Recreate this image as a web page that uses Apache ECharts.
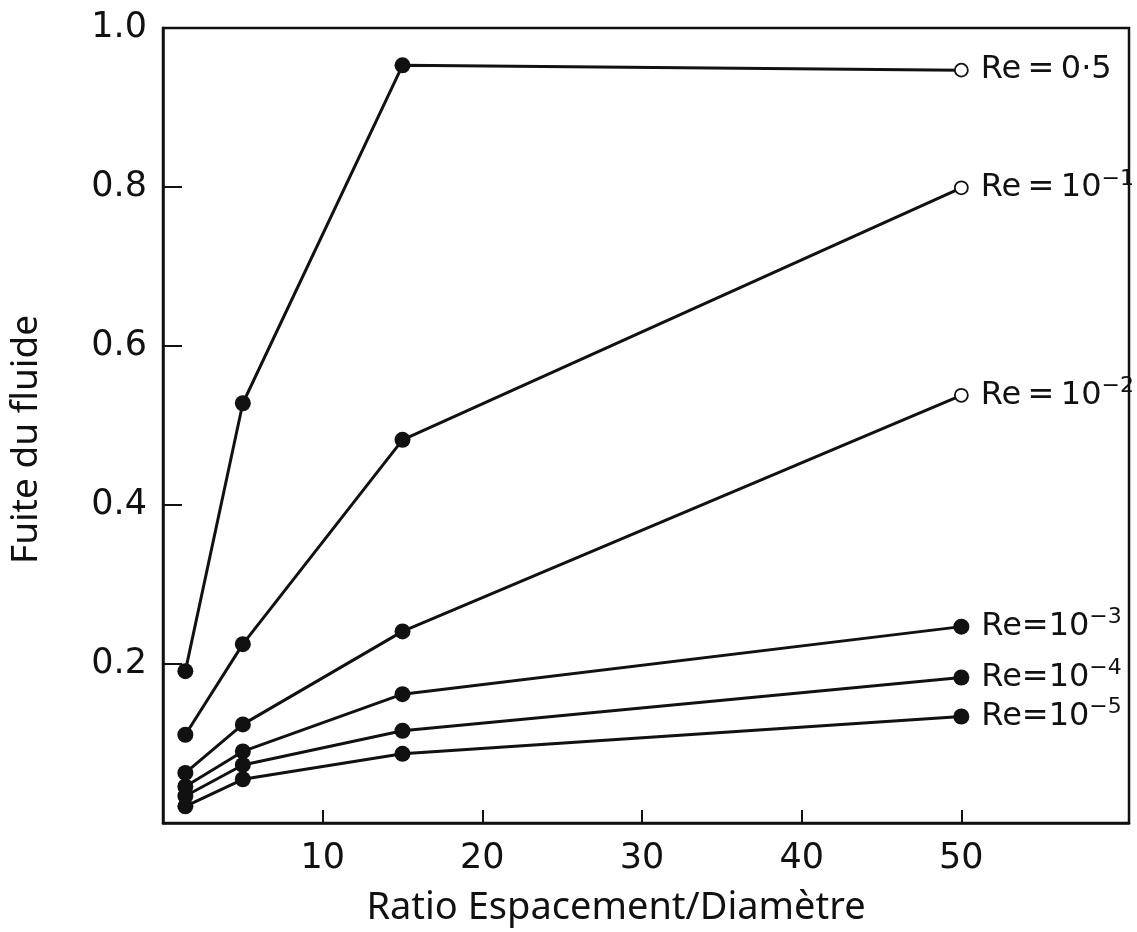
<!DOCTYPE html>
<html>
<head>
<meta charset="utf-8">
<script src="https://cdn.jsdelivr.net/npm/echarts@6.0.0/dist/echarts.min.js"></script>
<style>
  html, body { margin: 0; background: #fff; }
  #main { width: 1137px; height: 932px; }
</style>
</head>
<body>
<div id="main"></div>
<script>
// ratio espacement / diametre (abscisses des 4 colonnes de points)
var ratios = [1.4, 5, 15, 50];

// fuite du fluide pour chaque Re
var re05 = [0.191, 0.528, 0.953, 0.947];
var re1 = [0.111, 0.225, 0.482, 0.799];
var re2 = [0.063, 0.124, 0.241, 0.538];
var re3 = [0.046, 0.090, 0.162, 0.247];
var re4 = [0.034, 0.073, 0.116, 0.183];
var re5 = [0.021, 0.055, 0.087, 0.134];

var names = ['Re = 0·5', 'Re = 10⁻¹', 'Re = 10⁻²', 'Re = 10⁻³', 'Re = 10⁻⁴', 'Re = 10⁻⁵'];
var labels = ['{m|Re\u2009=\u20090·5}', '{m|Re\u2009=\u200910}{s|−1}', '{m|Re\u2009=\u200910}{s|−2}',
              '{m|Re=10}{s|−3}', '{m|Re=10}{s|−4}', '{m|Re=10}{s|−5}'];
var openLast = [true, true, true, false, false, false];

var xTicks = [10, 20, 30, 40, 50];
var yTicks = [0.2, 0.4, 0.6, 0.8];
var yLabels = [0.2, 0.4, 0.6, 0.8, 1.0];

var font = 'DejaVu Sans';

function makeSeries(vals, i) {
  var data = ratios.map(function (x, k) {
    var item = { value: [x, vals[k]] };
    if (k === ratios.length - 1) {
      if (openLast[i]) {
        item.symbolSize = 13;
        item.itemStyle = { color: '#fff', borderColor: '#111', borderWidth: 1.8 };
      }
      item.label = {
        show: true,
        position: 'right',
        distance: 12,
        formatter: labels[i],
        rich: {
          m: { fontFamily: font, fontSize: 32, color: '#111', lineHeight: 40 },
          s: { fontFamily: font, fontSize: 22, color: '#111', lineHeight: 12, verticalAlign: 'top' }
        }
      };
    }
    return item;
  });
  return {
    name: names[i],
    type: 'line',
    data: data,
    symbol: 'circle',
    symbolSize: 16,
    itemStyle: { color: '#111' },
    lineStyle: { color: '#111', width: 3 },
    animation: false
  };
}

var myChart = echarts.init(document.getElementById('main'));
myChart.setOption({
  backgroundColor: '#fff',
  grid: {
    left: 163, right: 8, top: 28, bottom: 108,
    show: true, borderColor: '#111', borderWidth: 2.5
  },
  xAxis: {
    type: 'value',
    min: 0, max: 60.5,
    name: 'Ratio Espacement/Diamètre',
    nameLocation: 'middle',
    nameGap: 66,
    nameTextStyle: { fontFamily: 'Noto Sans', fontSize: 38, color: '#111', padding: [0, 60, 0, 0] },
    axisLine: { lineStyle: { color: '#111', width: 2.5 } },
    axisTick: { inside: true, length: 13, lineStyle: { color: '#111', width: 2 }, customValues: xTicks },
    axisLabel: { fontFamily: font, fontSize: 35, color: '#111', margin: 18, customValues: xTicks },
    splitLine: { show: false }
  },
  yAxis: {
    type: 'value',
    min: 0, max: 1,
    name: 'Fuite du fluide',
    nameLocation: 'middle',
    nameRotate: 90,
    nameGap: 118,
    nameTextStyle: { fontFamily: 'Noto Sans', fontSize: 37, color: '#111', padding: [0, 0, 0, -28] },
    axisLine: { lineStyle: { color: '#111', width: 2.5 } },
    axisTick: { inside: true, length: 19, lineStyle: { color: '#111', width: 2 }, customValues: yTicks },
    axisLabel: {
      fontFamily: font, fontSize: 35, color: '#111', margin: 16,
      customValues: yLabels,
      formatter: function (v) { return v.toFixed(1); }
    },
    splitLine: { show: false }
  },
  series: [re05, re1, re2, re3, re4, re5].map(makeSeries)
});
</script>
</body>
</html>
